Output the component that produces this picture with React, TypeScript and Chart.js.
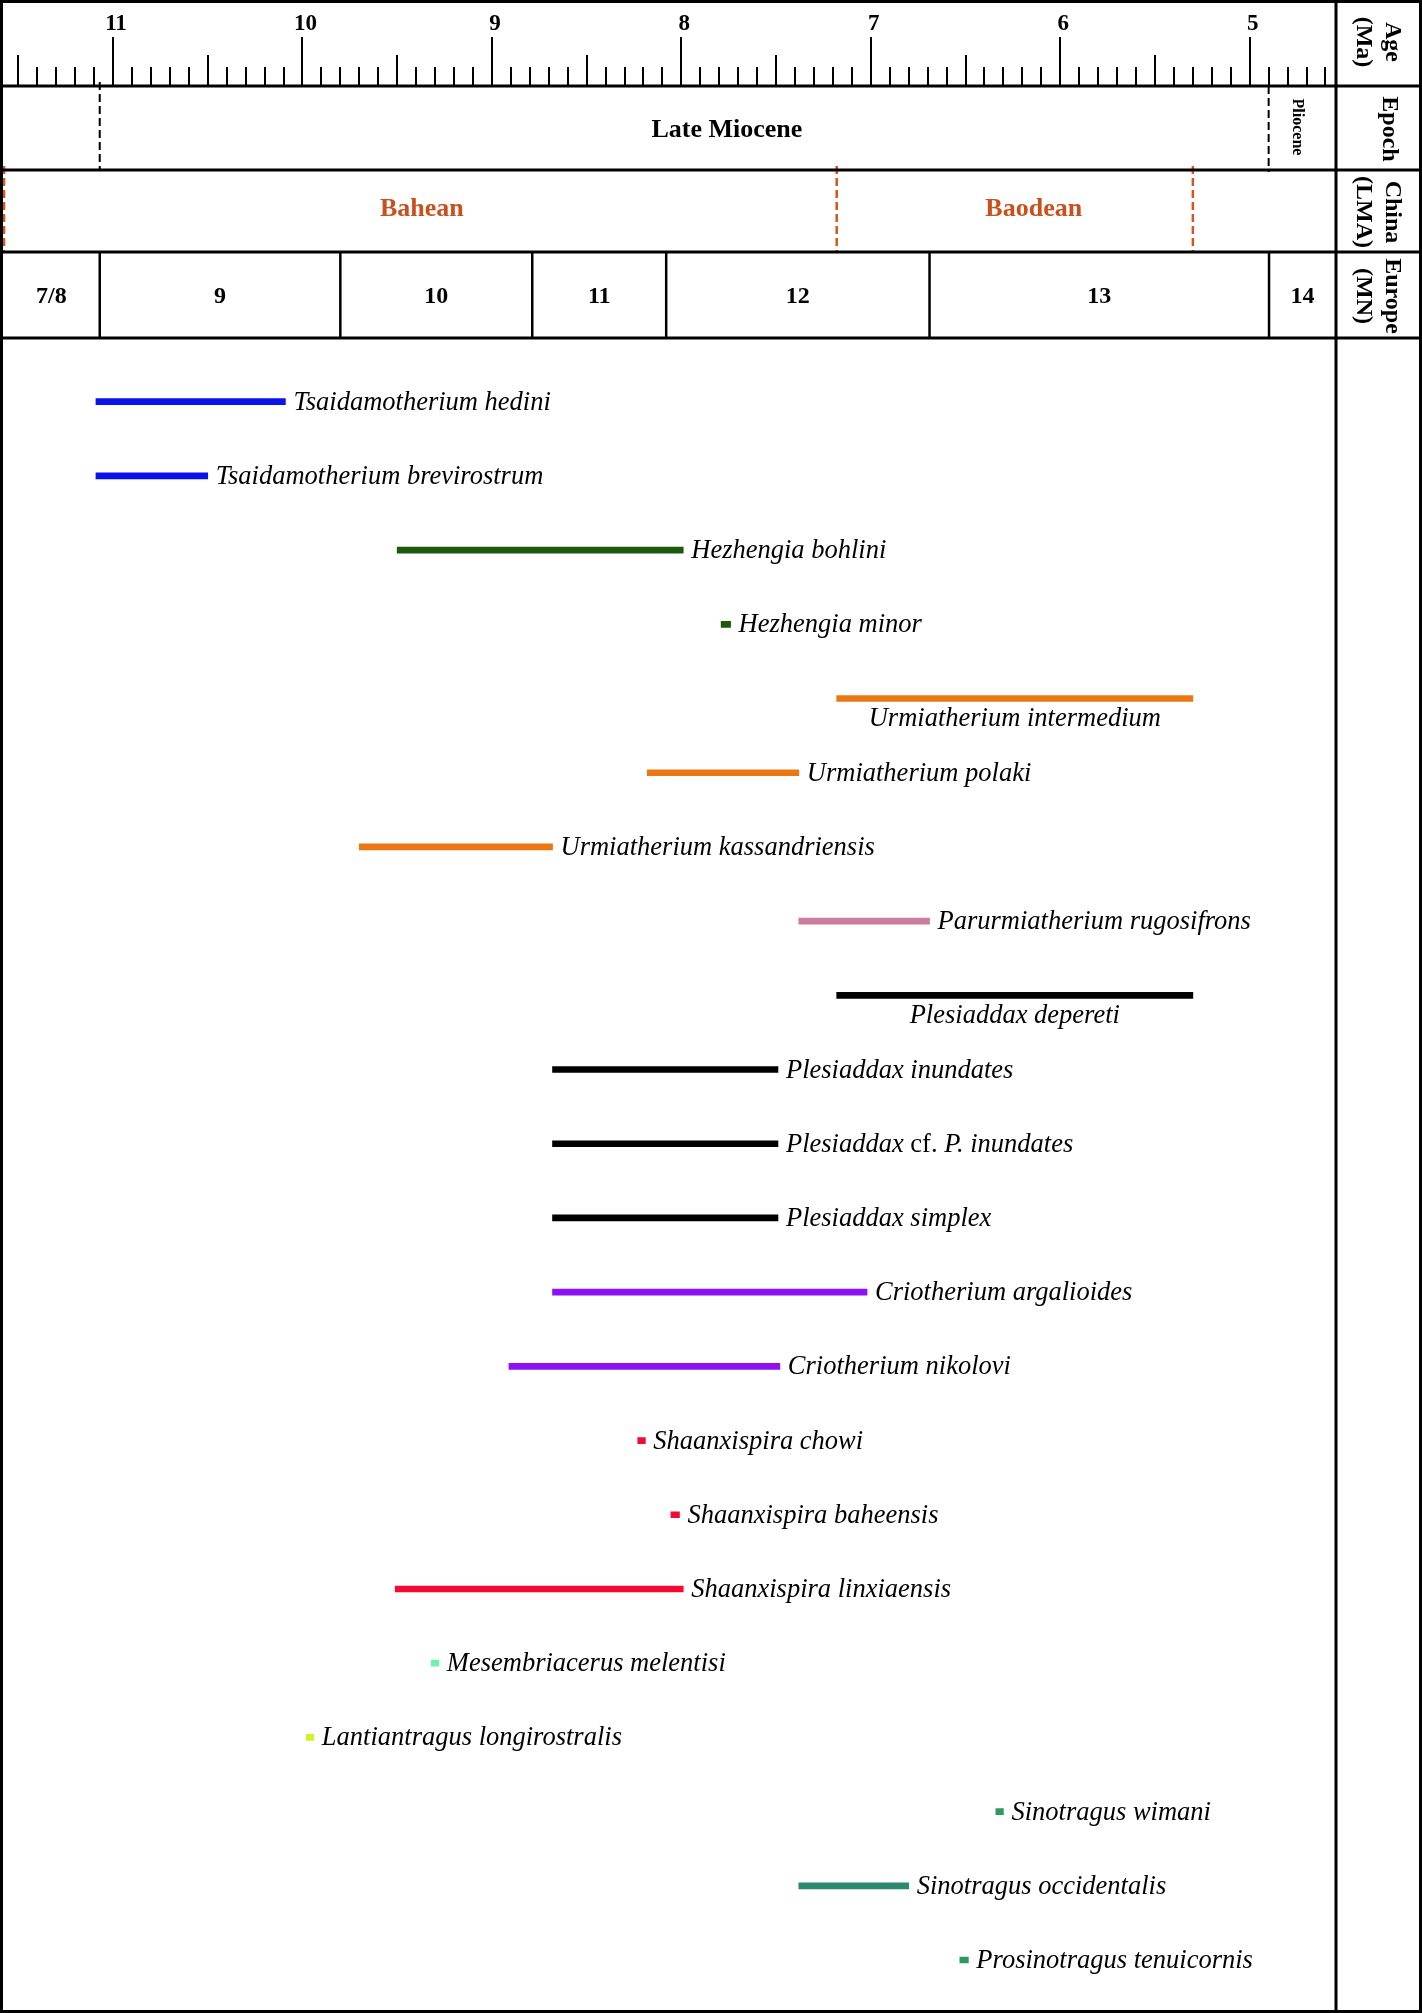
import { useEffect, useRef } from 'react';
import { Chart, registerables } from 'chart.js';

Chart.register(...registerables);

// ---------- data ----------
const speciesNames = [
  'Tsaidamotherium hedini',
  'Tsaidamotherium brevirostrum',
  'Hezhengia bohlini',
  'Hezhengia minor',
  'Urmiatherium intermedium',
  'Urmiatherium polaki',
  'Urmiatherium kassandriensis',
  'Parurmiatherium rugosifrons',
  'Plesiaddax depereti',
  'Plesiaddax inundates',
  'Plesiaddax cf. P. inundates',
  'Plesiaddax simplex',
  'Criotherium argalioides',
  'Criotherium nikolovi',
  'Shaanxispira chowi',
  'Shaanxispira baheensis',
  'Shaanxispira linxiaensis',
  'Mesembriacerus melentisi',
  'Lantiantragus longirostralis',
  'Sinotragus wimani',
  'Sinotragus occidentalis',
  'Prosinotragus tenuicornis',
];
// first (oldest) and last (youngest) appearance, Ma
const oldestAge = [11.09, 11.09, 9.5, 7.79, 7.18, 8.18, 9.7, 7.38, 7.18, 8.68, 8.68, 8.68, 8.68, 8.91, 8.23, 8.055, 9.51, 9.32, 9.98, 6.34, 7.38, 6.53];
const youngestAge = [10.09, 10.5, 7.99, 7.74, 5.3, 7.38, 8.68, 6.69, 5.3, 7.49, 7.49, 7.49, 7.02, 7.48, 8.19, 8.01, 7.99, 9.28, 9.94, 6.3, 6.8, 6.485];

// colours by genus (style)
const barColors = [
  '#0a14ea', '#0a14ea',
  '#1e5a0c', '#1e5a0c',
  '#ec7612', '#ec7612', '#ec7612',
  '#cc7c9e',
  '#000000', '#000000', '#000000', '#000000',
  '#8e12f0', '#8e12f0',
  '#f20a32', '#f20a32', '#f20a32',
  '#70f2aa',
  '#d6f226',
  '#2e9a62', '#2a8a6e', '#2e9a62',
];
const labelBelow = ['Urmiatherium intermedium', 'Plesiaddax depereti'];

// age axis
const ageMin = 4.5445;
const ageMax = 11.5806;
const majorTickAges = [11, 10, 9, 8, 7, 6, 5];
const majorTickLabels = ['11', '10', '9', '8', '7', '6', '5'];

// epochs
const epochBoundaries = [11.07, 4.9];
const epochNames = ['Late Miocene', 'Pliocene'];
const epochLabelAges = [7.76, 4.75];

// Chinese land mammal ages
const chinaBoundaries = [11.575, 7.18, 5.3];
const chinaStages = ['Bahean', 'Baodean'];
const chinaLabelAges = [9.37, 6.14];

// European MN zones
const mnBoundaries = [11.07, 9.8, 8.787, 8.08, 6.69, 4.898];
const mnZones = ['7/8', '9', '10', '11', '12', '13', '14'];

// right-hand column headers
const rowHeaders = [['Age', '(Ma)'], ['Epoch'], ['China', '(LMA)'], ['Europe', '(MN)']];

const FONT = '"Liberation Serif", "Times New Roman", Times, serif';
const ROW_Y = [0, 86, 170, 252, 338];
const ORANGE = '#d05a1e';
const ORANGE_TEXT = '#c9501c';

function vline(ctx: CanvasRenderingContext2D, x: number, y0: number, y1: number) {
  ctx.beginPath();
  ctx.moveTo(x, y0);
  ctx.lineTo(x, y1);
  ctx.stroke();
}
function hline(ctx: CanvasRenderingContext2D, y: number, x0: number, x1: number) {
  ctx.beginPath();
  ctx.moveTo(x0, y);
  ctx.lineTo(x1, y);
  ctx.stroke();
}
function rotatedText(ctx: CanvasRenderingContext2D, text: string, x: number, y: number, font: string) {
  ctx.save();
  ctx.translate(x, y);
  ctx.rotate(Math.PI / 2);
  ctx.font = font;
  ctx.textAlign = 'center';
  ctx.textBaseline = 'middle';
  ctx.fillText(text, 0, 0);
  ctx.restore();
}

function labelParts(name: string): [string, boolean][] {
  const idx = name.indexOf(' cf. ');
  if (idx < 0) return [[name, true]];
  return [
    [name.slice(0, idx + 1), true],
    ['cf. ', false],
    [name.slice(idx + 5), true],
  ];
}

const timescalePlugin = {
  id: 'timescale',
  beforeDraw(chart: any) {
    const { ctx } = chart;
    ctx.save();
    ctx.fillStyle = '#ffffff';
    ctx.fillRect(0, 0, chart.width, chart.height);
    ctx.restore();
  },
  afterDatasetsDraw(chart: any) {
    const { ctx } = chart;
    const meta = chart.getDatasetMeta(0);
    const italic = `italic 26.5px ${FONT}`;
    const normal = `26.5px ${FONT}`;
    ctx.save();
    ctx.fillStyle = '#000';
    ctx.textBaseline = 'middle';
    meta.data.forEach((el: any, i: number) => {
      const name = speciesNames[i];
      const left = Math.min(el.x, el.base);
      const right = Math.max(el.x, el.base);
      const parts = labelParts(name);
      if (labelBelow.includes(name)) {
        ctx.font = italic;
        ctx.textAlign = 'center';
        ctx.fillText(name, (left + right) / 2, el.y + 21);
      } else {
        let x = right + 8;
        ctx.textAlign = 'left';
        for (const [txt, it] of parts) {
          ctx.font = it ? italic : normal;
          ctx.fillText(txt, x, el.y + 1);
          x += ctx.measureText(txt).width;
        }
      }
    });
    ctx.restore();
  },
  afterDraw(chart: any) {
    const { ctx } = chart;
    const xs = chart.scales.x;
    const W = chart.width;
    const H = chart.height;
    const px = (a: number) => xs.getPixelForValue(a);
    const divX = xs.right;
    ctx.save();
    ctx.strokeStyle = '#000';
    ctx.fillStyle = '#000';

    // ---- age ticks (from the x scale's own 0.1 Ma ticks) ----
    ctx.lineWidth = 2;
    for (const t of xs.ticks) {
      const v = Math.round(t.value * 10);
      const len = v % 10 === 0 ? 49 : v % 5 === 0 ? 31 : 19;
      const x = Math.round(px(t.value));
      vline(ctx, x, ROW_Y[1] - len, ROW_Y[1]);
    }
    ctx.font = `bold 23px ${FONT}`;
    ctx.textAlign = 'center';
    ctx.textBaseline = 'middle';
    majorTickAges.forEach((a, i) => ctx.fillText(majorTickLabels[i], px(a) + 3, 24));

    // ---- epoch ----
    ctx.setLineDash([8, 4]);
    ctx.lineWidth = 2;
    vline(ctx, px(epochBoundaries[0]), 82, ROW_Y[2]);
    vline(ctx, px(epochBoundaries[1]), ROW_Y[1], 172);
    ctx.setLineDash([]);
    ctx.font = `bold 26px ${FONT}`;
    ctx.fillText(epochNames[0], px(epochLabelAges[0]), 130);
    rotatedText(ctx, epochNames[1], px(epochLabelAges[1]), 127, `bold 16px ${FONT}`);

    // ---- China LMA ----
    ctx.strokeStyle = ORANGE;
    ctx.lineWidth = 2.5;
    ctx.setLineDash([8, 4]);
    chinaBoundaries.forEach((a) => vline(ctx, px(a), 166, ROW_Y[3]));
    ctx.setLineDash([]);
    ctx.fillStyle = ORANGE_TEXT;
    ctx.font = `bold 26px ${FONT}`;
    chinaStages.forEach((s, i) => ctx.fillText(s, px(chinaLabelAges[i]), 209));

    // ---- Europe MN ----
    ctx.strokeStyle = '#000';
    ctx.fillStyle = '#000';
    ctx.lineWidth = 2.5;
    mnBoundaries.forEach((a) => vline(ctx, px(a), ROW_Y[3], ROW_Y[4]));
    const edges = [ageMax, ...mnBoundaries, ageMin];
    ctx.font = `bold 24px ${FONT}`;
    mnZones.forEach((z, i) => ctx.fillText(z, (px(edges[i]) + px(edges[i + 1])) / 2, 297));

    // ---- frame ----
    ctx.lineWidth = 3;
    for (let r = 1; r < ROW_Y.length; r++) hline(ctx, ROW_Y[r], 0, W);
    vline(ctx, divX, 0, H);
    ctx.strokeRect(1.5, 1.5, W - 3, H - 3);

    // ---- right column headers ----
    const hfont = `bold 24px ${FONT}`;
    rowHeaders.forEach((lines, r) => {
      const cy = (ROW_Y[r] + ROW_Y[r + 1]) / 2 + (r === 0 ? -1 : 1);
      if (lines.length === 1) {
        rotatedText(ctx, lines[0], 1389, cy, hfont);
      } else {
        rotatedText(ctx, lines[0], 1392, cy, hfont);
        rotatedText(ctx, lines[1], 1363, cy, hfont);
      }
    });
    ctx.restore();
  },
};

export default function App() {
  const ref = useRef<HTMLCanvasElement | null>(null);
  useEffect(() => {
    document.body.style.margin = '0';
    document.body.style.overflow = 'hidden';
    const canvas = ref.current;
    if (!canvas) return;
    const rowSpacing = (1960 - 401.7) / (speciesNames.length - 1);
    const chart = new Chart(canvas, {
      type: 'bar',
      data: {
        labels: speciesNames,
        datasets: [
          {
            data: speciesNames.map((_, i) => [oldestAge[i], youngestAge[i]]) as any,
            backgroundColor: barColors,
            barThickness: 6,
            borderWidth: 0,
            borderSkipped: false,
          },
        ],
      },
      options: {
        indexAxis: 'y',
        responsive: false,
        animation: false,
        layout: {
          padding: {
            left: 3,
            right: 86,
            top: 401.7 - rowSpacing / 2,
            bottom: 2013 - (1960 + rowSpacing / 2),
          },
        },
        scales: {
          x: {
            type: 'linear',
            reverse: true,
            min: ageMin,
            max: ageMax,
            display: false,
            ticks: { stepSize: 0.1, includeBounds: false, autoSkip: false },
          },
          y: { type: 'category', display: false, offset: true },
        },
        plugins: { legend: { display: false }, tooltip: { enabled: false } },
      } as any,
      plugins: [timescalePlugin],
    });
    return () => chart.destroy();
  }, []);
  return (
    <div style={{ width: 1422, height: 2013 }}>
      <canvas ref={ref} width={1422} height={2013} style={{ display: 'block', width: 1422, height: 2013 }} />
    </div>
  );
}
